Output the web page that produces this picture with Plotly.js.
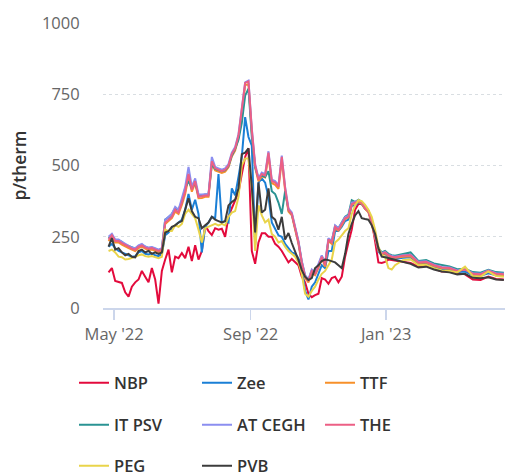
<!DOCTYPE html>
<html>
<head>
<meta charset="utf-8">
<script src="https://cdn.plot.ly/plotly-3.0.1.min.js"></script>
<style>html,body{margin:0;padding:0;background:#fff;}#chart{width:505px;height:475px;}</style>
</head>
<body>
<div id="chart"></div>
<script>
var dates = [
"2022-04-26","2022-04-29","2022-05-02","2022-05-05","2022-05-08","2022-05-11","2022-05-14","2022-05-17","2022-05-20","2022-05-23",
"2022-05-26","2022-05-29","2022-06-01","2022-06-04","2022-06-07","2022-06-10","2022-06-13","2022-06-16","2022-06-19","2022-06-22",
"2022-06-25","2022-06-28","2022-07-01","2022-07-04","2022-07-07","2022-07-10","2022-07-13","2022-07-16","2022-07-19","2022-07-22",
"2022-07-25","2022-07-28","2022-07-31","2022-08-03","2022-08-06","2022-08-09","2022-08-12","2022-08-15","2022-08-18","2022-08-21",
"2022-08-24","2022-08-27","2022-08-30","2022-09-02","2022-09-05","2022-09-08","2022-09-11","2022-09-14","2022-09-17","2022-09-20",
"2022-09-23","2022-09-26","2022-09-29","2022-10-02","2022-10-05","2022-10-08","2022-10-11","2022-10-14","2022-10-17","2022-10-20",
"2022-10-23","2022-10-26","2022-10-29","2022-11-01","2022-11-04","2022-11-07","2022-11-10","2022-11-13","2022-11-16","2022-11-19",
"2022-11-22","2022-11-25","2022-11-28","2022-12-01","2022-12-04","2022-12-07","2022-12-10","2022-12-13","2022-12-16","2022-12-19",
"2022-12-22","2022-12-25","2022-12-28","2022-12-31","2023-01-03","2023-01-06","2023-01-09","2023-01-16","2023-01-23","2023-01-30",
"2023-02-06","2023-02-13","2023-02-20","2023-02-27","2023-03-06","2023-03-13","2023-03-20","2023-03-27","2023-04-03","2023-04-10",
"2023-04-17"];

var nbp = [125,140,95,92,88,55,40,75,90,100,
130,110,90,140,100,15,130,170,205,125,
180,175,193,175,215,165,220,170,200,290,
270,256,280,275,278,250,320,350,380,405,
470,530,560,200,155,230,262,262,250,250,
225,215,200,180,160,172,162,150,110,90,
50,38,45,50,105,100,85,105,110,90,
110,180,230,275,345,365,365,350,340,305,
235,160,158,162,170,168,165,162,158,145,
148,138,128,128,122,118,100,98,110,102,
100];

var zee = [215,225,210,200,195,190,185,180,182,195,
200,190,188,192,185,182,190,255,265,280,
290,300,310,345,400,345,380,330,195,285,
300,320,315,470,300,305,300,420,395,460,
530,670,600,570,220,440,455,440,390,300,
280,255,250,225,210,195,190,175,140,60,
30,75,90,120,150,140,200,200,270,270,
285,305,310,360,360,370,365,348,338,305,
245,198,185,190,178,174,172,176,178,155,
156,145,136,135,126,128,115,113,122,115,
113];

var ttf = [235,250,230,230,222,215,210,205,200,210,
215,208,203,205,200,196,200,295,305,315,
338,330,362,400,460,408,438,385,386,390,
390,505,483,478,474,478,494,532,552,598,
680,782,785,615,492,445,462,458,535,438,
432,418,520,412,338,325,275,225,155,105,
90,125,115,140,175,145,235,225,280,272,
290,312,318,362,368,372,366,348,336,296,
248,202,188,192,182,178,176,180,182,158,
160,148,140,138,128,138,118,116,132,118,
116];

var itpsv = [245,252,238,238,232,222,218,212,208,218,
222,215,210,212,208,203,208,310,318,330,
350,345,372,420,445,420,440,395,395,398,
398,505,488,483,480,484,498,535,558,590,
650,745,770,600,495,455,465,460,480,410,
400,370,330,410,345,330,282,232,162,112,
98,132,122,148,182,152,238,232,288,280,
300,320,328,378,372,380,372,352,342,305,
255,210,195,200,190,185,183,190,195,165,
168,156,150,146,136,138,126,124,134,126,
124];

var atcegh = [250,260,240,240,232,225,220,212,210,220,
225,216,212,214,210,205,210,310,320,330,
355,345,385,425,495,425,455,398,398,400,
400,530,495,490,485,490,505,545,565,610,
695,792,798,630,505,455,475,470,550,450,
445,430,535,425,350,335,285,235,165,115,
100,135,125,155,185,158,245,235,290,280,
298,318,324,370,372,378,372,352,342,302,
252,208,192,197,186,182,180,185,187,162,
164,152,144,142,132,137,122,120,132,122,
120];

var the = [240,255,235,235,228,220,215,208,205,215,
220,212,208,210,205,200,205,300,310,320,
345,335,370,410,470,415,445,390,392,395,
395,515,490,485,480,485,500,540,560,605,
690,790,795,625,500,450,470,465,545,445,
440,425,530,420,345,330,280,230,160,110,
95,130,120,145,180,150,240,230,285,275,
295,315,320,365,370,375,370,350,340,300,
250,205,190,195,185,180,178,183,185,160,
162,150,142,140,130,135,120,118,130,120,
118];

var peg = [200,205,195,180,178,170,172,175,180,185,
188,182,180,182,178,175,180,275,270,270,
290,285,295,330,345,330,315,275,230,280,
285,290,295,290,295,290,320,335,340,390,
500,525,525,420,200,360,325,300,310,260,
250,230,235,215,200,190,180,160,120,50,
40,60,75,100,120,130,150,170,230,240,
255,270,280,330,360,378,375,362,345,320,
275,215,185,180,140,135,150,168,170,150,
152,140,132,130,125,145,112,110,128,112,
110];

var pvb = [215,245,205,210,195,185,190,180,178,200,
205,195,200,190,195,190,195,265,270,285,
290,300,305,345,385,340,320,315,280,290,
300,320,310,305,300,305,360,372,380,420,
540,545,560,425,265,440,335,345,420,320,
310,275,320,240,263,228,200,168,133,110,
98,105,140,150,165,170,168,165,160,150,
140,190,260,295,325,340,315,312,310,290,
260,210,180,178,175,170,168,160,155,142,
145,135,128,125,118,120,106,104,108,100,
98];

var names = ["NBP","Zee","TTF","IT PSV","AT CEGH","THE","PEG","PVB"];
var series = [nbp, zee, ttf, itpsv, atcegh, the, peg, pvb];
var colors = ["#e30a3c","#1a7fd6","#f7902a","#2a9393","#8b8ef0","#ec5f85","#e9d44a","#3c3c3c"];
var legendOf = ["legend","legend","legend","legend2","legend2","legend2","legend3","legend3"];

var tickVals = ["2022-05-01","2022-09-01","2023-01-01"];
var tickText = ["May '22","Sep '22","Jan '23"];

var traces = names.map(function(n, i){
  return {
    type: "scatter", mode: "lines", name: n,
    x: dates, y: series[i],
    line: {color: colors[i], width: 2},
    legend: legendOf[i],
    hoverinfo: "skip"
  };
});

function leg(yPix){
  return {
    orientation: "h", xref: "container", yref: "container",
    x: 74/505, y: 1 - yPix/475, xanchor: "left", yanchor: "middle",
    entrywidth: 78, entrywidthmode: "pixels",
    font: {family: "Open Sans", size: 16.5, color: "#333333", weight: 600},
    bgcolor: "rgba(0,0,0,0)", borderwidth: 0
  };
}

var layout = {
  width: 505, height: 475,
  margin: {l: 103, r: 0, t: 23, b: 167},
  paper_bgcolor: "#ffffff", plot_bgcolor: "#ffffff",
  font: {family: "Open Sans", size: 16.5, color: "#666666"},
  showlegend: true,
  legend: leg(383),
  legend2: leg(425),
  legend3: leg(466),
  xaxis: {
    type: "date",
    range: ["2022-04-21", "2023-04-18"],
    tickvals: tickVals, ticktext: tickText,
    ticks: "outside", ticklen: 10, tickwidth: 1.5, tickcolor: "#ccd6eb",
    showline: true, linecolor: "#ccd6eb", linewidth: 2,
    showgrid: false, zeroline: false,
    tickfont: {family: "Open Sans", size: 16.5, color: "#666666"}
  },
  yaxis: {
    range: [0, 1000],
    tickvals: [0, 250, 500, 750, 1000],
    ticks: "outside", ticklen: 19, tickcolor: "rgba(0,0,0,0)",
    showgrid: true, gridcolor: "#d9dee2", griddash: "3px,3px", gridwidth: 1,
    zeroline: false, showline: false,
    tickfont: {family: "Open Sans", size: 16.5, color: "#666666"},
    title: {text: "p/therm", standoff: 10, font: {family: "Open Sans", size: 17.5, color: "#333333", weight: 600}}
  }
};

Plotly.newPlot("chart", traces, layout, {displayModeBar: false, staticPlot: true});
</script>
</body>
</html>
